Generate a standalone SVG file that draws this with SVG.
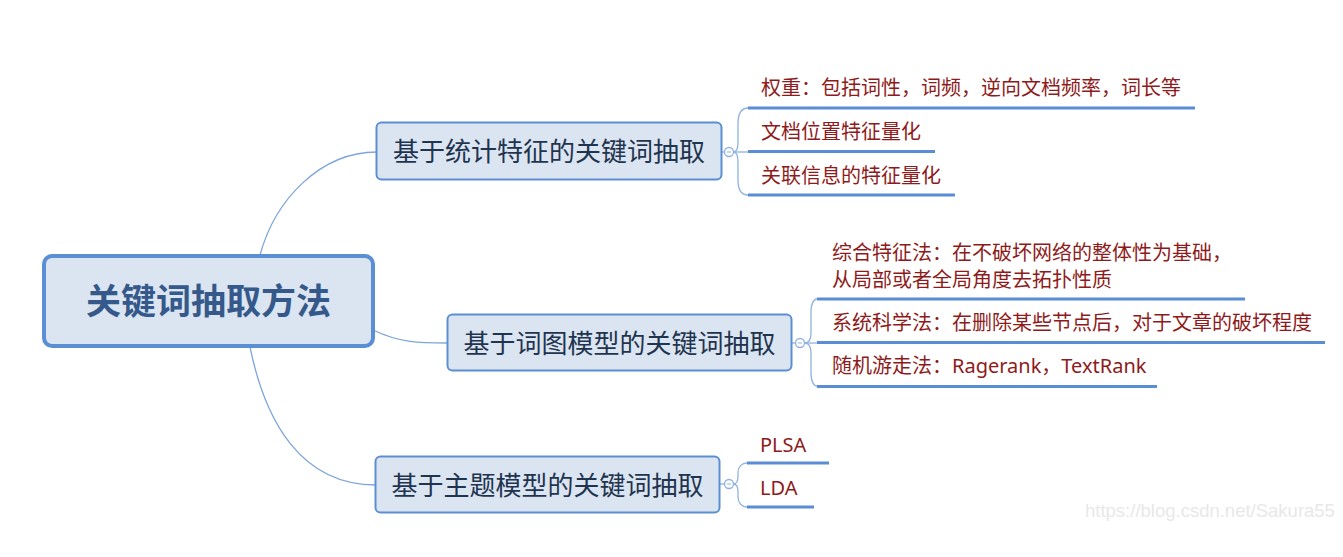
<svg xmlns="http://www.w3.org/2000/svg" width="1343" height="557" viewBox="0 0 1343 557">
<style>
.bg{fill:#ffffff}
.conn{fill:none;stroke:#7ea6dc;stroke-width:1.3}
.brk{fill:none;stroke:#8fb2e2;stroke-width:1.3}
.knob{fill:#ffffff;stroke:#8fb2e2;stroke-width:1.3}
.uline{stroke:#5b8dd6;stroke-width:3;stroke-linecap:butt}
.root{fill:#dbe5f1;stroke:#5b8fd4;stroke-width:4}
.box{fill:#dbe5f1;stroke:#5b8fd4;stroke-width:2}
.rt{font-family:"Noto Sans CJK SC","Noto Sans",sans-serif;font-weight:bold;font-size:35px;fill:#35598a;text-anchor:middle}
.bt{font-family:"Noto Sans CJK SC","Noto Sans",sans-serif;font-size:26px;fill:#1f344f;text-anchor:middle}
.lt{font-family:"Noto Sans","Noto Sans CJK SC",sans-serif;font-size:20px;fill:#8e1b1b}
.wm{font-family:"Liberation Sans",Arial,sans-serif;font-size:18.5px;fill:#e8e8e8}
</style>
<rect class="bg" x="0" y="0" width="1343" height="557"/>

<g id="connectors">
<path class="conn" d="M260,255 C275,200 320,152 377,152"/>
<path class="conn" d="M373,330 C400,343 420,343 447,343"/>
<path class="conn" d="M250,347 C265,420 300,485 376,485"/>
<path class="brk" d="M722,152 L724.5,152"/>
<path class="brk" d="M733.5,152 L748,152"/>
<path class="brk" d="M748,108 C741,108 738,113 738,124 L738,142 C738,149 736,152 733.5,152"/>
<path class="brk" d="M748,195 C741,195 738,190 738,180 L738,162 C738,155 736,152 733.5,152"/>
<path class="brk" d="M792,343 L795.5,343"/>
<path class="brk" d="M804.5,343 L817,343"/>
<path class="brk" d="M817,299 C814,299 811,303 811,312 L811,333 C811,340 808,343 804.5,343"/>
<path class="brk" d="M817,386 C814,386 811,382 811,373 L811,353 C811,346 808,343 804.5,343"/>
<path class="brk" d="M720,484 L724.5,484"/>
<path class="brk" d="M747,463 C742,463 738,467 738,472 L738,476 C738,481 736,484 733.5,484"/>
<path class="brk" d="M747,507 C742,507 738,503 738,497 L738,492 C738,487 736,484 733.5,484"/>
</g>

<g id="root">
<rect class="root" x="44" y="256" width="329" height="90" rx="8"/>
<text class="rt" x="208.5" y="314">关键词抽取方法</text>
</g>

<g id="branch1">
<rect class="box" x="376.5" y="122.5" width="345" height="57" rx="5"/>
<text class="bt" x="549" y="161">基于统计特征的关键词抽取</text>
<circle class="knob" cx="729" cy="152" r="4.5"/>
<line x1="727" y1="152" x2="731" y2="152" stroke="#8fb2e2" stroke-width="1"/>
</g>

<g id="b1c1">
<line class="uline" x1="748" y1="108" x2="1195" y2="108"/>
<text class="lt" x="761" y="95">权重：包括词性，词频，逆向文档频率，词长等</text>
</g>
<g id="b1c2">
<line class="uline" x1="748" y1="151.5" x2="935" y2="151.5"/>
<text class="lt" x="761" y="139">文档位置特征量化</text>
</g>
<g id="b1c3">
<line class="uline" x1="748" y1="195" x2="955" y2="195"/>
<text class="lt" x="761" y="183">关联信息的特征量化</text>
</g>

<g id="branch2">
<rect class="box" x="447.5" y="314.5" width="344" height="56" rx="5"/>
<text class="bt" x="619.5" y="353">基于词图模型的关键词抽取</text>
<circle class="knob" cx="800" cy="343" r="4.5"/>
<line x1="798" y1="343" x2="802" y2="343" stroke="#8fb2e2" stroke-width="1"/>
</g>

<g id="b2c1">
<line class="uline" x1="817" y1="299" x2="1245" y2="299"/>
<text class="lt" x="832" y="260">综合特征法：在不破坏网络的整体性为基础，</text>
<text class="lt" x="832" y="287">从局部或者全局角度去拓扑性质</text>
</g>
<g id="b2c2">
<line class="uline" x1="817" y1="342.5" x2="1325" y2="342.5"/>
<text class="lt" x="832" y="330">系统科学法：在删除某些节点后，对于文章的破坏程度</text>
</g>
<g id="b2c3">
<line class="uline" x1="817" y1="386.5" x2="1157" y2="386.5"/>
<text class="lt" x="832" y="373">随机游走法：Ragerank，TextRank</text>
</g>

<g id="branch3">
<rect class="box" x="375.5" y="456.5" width="344" height="56" rx="5"/>
<text class="bt" x="547.5" y="495">基于主题模型的关键词抽取</text>
<circle class="knob" cx="729" cy="484" r="4.5"/>
<line x1="727" y1="484" x2="731" y2="484" stroke="#8fb2e2" stroke-width="1"/>
</g>

<g id="b3c1">
<line class="uline" x1="747" y1="463" x2="829" y2="463"/>
<text class="lt" x="760" y="452">PLSA</text>
</g>
<g id="b3c2">
<line class="uline" x1="747" y1="507" x2="814" y2="507"/>
<text class="lt" x="760" y="495">LDA</text>
</g>

<text class="wm" x="1085" y="517">https://blog.csdn.net/Sakura55</text>
</svg>
